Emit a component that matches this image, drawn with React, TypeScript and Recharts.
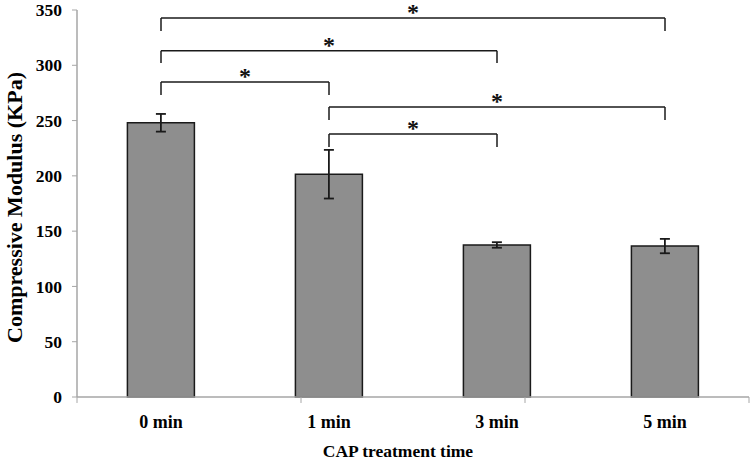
import React from 'react';
import { BarChart, Bar, XAxis, YAxis, ErrorBar, ReferenceLine } from 'recharts';

const categories = ['0 min', '1 min', '3 min', '5 min'];
const means = [248, 201.5, 137.5, 136.5];
const errors = [8, 22, 2.5, 6.5];
const yTicks = [0, 50, 100, 150, 200, 250, 300, 350];
const edgeTicks = [0, 1, 2, 3, 4];

const bracketFrom = ['0 min', '0 min', '0 min', '1 min', '1 min'];
const bracketTo = ['5 min', '3 min', '1 min', '5 min', '3 min'];
const bracketTop = [342.8, 313.2, 284.9, 262.3, 237.9];
const bracketBottom = [331, 302, 273.2, 250.5, 226.1];

const data = categories.map((c, i) => ({ name: c, value: means[i], err: errors[i] }));

const FONT = '"Liberation Serif", "Times New Roman", serif';
const AXIS = '#a6a6a6';
const INK = '#1a1a1a';

export default function App() {
  return (
    <div style={{ position: 'absolute', left: 0, top: 0 }}>
      <BarChart
        width={753}
        height={463}
        data={data}
        margin={{ top: 10, right: 4, bottom: 0, left: 0 }}
        barCategoryGap="30%"
      >
        <XAxis
          xAxisId="cat"
          dataKey="name"
          height={66}
          tickLine={false}
          tickSize={0}
          tickMargin={18}
          axisLine={{ stroke: AXIS, strokeWidth: 1.5 }}
          tick={{ fill: '#000', fontFamily: FONT, fontWeight: 'bold', fontSize: 18 }}
          label={{
            value: 'CAP treatment time',
            position: 'insideBottom',
            offset: 6,
            dx: -15,
            fill: '#000',
            fontFamily: FONT,
            fontWeight: 'bold',
            fontSize: 17.5,
          }}
        />
        <XAxis xAxisId="edges" type="number" domain={[0, 4]} allowDataOverflow hide />
        <YAxis
          width={77}
          domain={[0, 350]}
          ticks={yTicks}
          interval={0}
          tickSize={5}
          tickMargin={10}
          axisLine={{ stroke: AXIS, strokeWidth: 1.5 }}
          tickLine={{ stroke: AXIS, strokeWidth: 1 }}
          tick={{ fill: '#000', fontFamily: FONT, fontWeight: 'bold', fontSize: 17.5 }}
          label={{
            value: 'Compressive Modulus (KPa)',
            angle: -90,
            position: 'center',
            dx: -24,
            dy: 4,
            fill: '#000',
            fontFamily: FONT,
            fontWeight: 'bold',
            fontSize: 22,
          }}
        />
        <Bar
          xAxisId="cat"
          dataKey="value"
          fill="#8e8e8e"
          stroke={INK}
          strokeWidth={1.5}
          isAnimationActive={false}
        >
          <ErrorBar dataKey="err" width={5} stroke={INK} strokeWidth={1.8} direction="y" />
        </Bar>
        {edgeTicks.map((t) => (
          <ReferenceLine
            key={'e' + t}
            xAxisId="edges"
            ifOverflow="visible"
            segment={[
              { x: t, y: 0 },
              { x: t, y: -5.4 },
            ]}
            stroke={AXIS}
            strokeWidth={1}
          />
        ))}
        {bracketFrom.map((f, i) => (
          <ReferenceLine
            key={'h' + i}
            xAxisId="cat"
            segment={[
              { x: f, y: bracketTop[i] },
              { x: bracketTo[i], y: bracketTop[i] },
            ]}
            stroke={INK}
            strokeWidth={1.5}
            label={{
              value: '*',
              position: 'top',
              offset: -2,
              fill: '#111',
              fontFamily: FONT,
              fontWeight: 'bold',
              fontSize: 24,
            }}
          />
        ))}
        {bracketFrom.map((f, i) => (
          <ReferenceLine
            key={'l' + i}
            xAxisId="cat"
            segment={[
              { x: f, y: bracketTop[i] },
              { x: f, y: bracketBottom[i] },
            ]}
            stroke={INK}
            strokeWidth={1.5}
          />
        ))}
        {bracketTo.map((t, i) => (
          <ReferenceLine
            key={'r' + i}
            xAxisId="cat"
            segment={[
              { x: t, y: bracketTop[i] },
              { x: t, y: bracketBottom[i] },
            ]}
            stroke={INK}
            strokeWidth={1.5}
          />
        ))}
      </BarChart>
    </div>
  );
}
